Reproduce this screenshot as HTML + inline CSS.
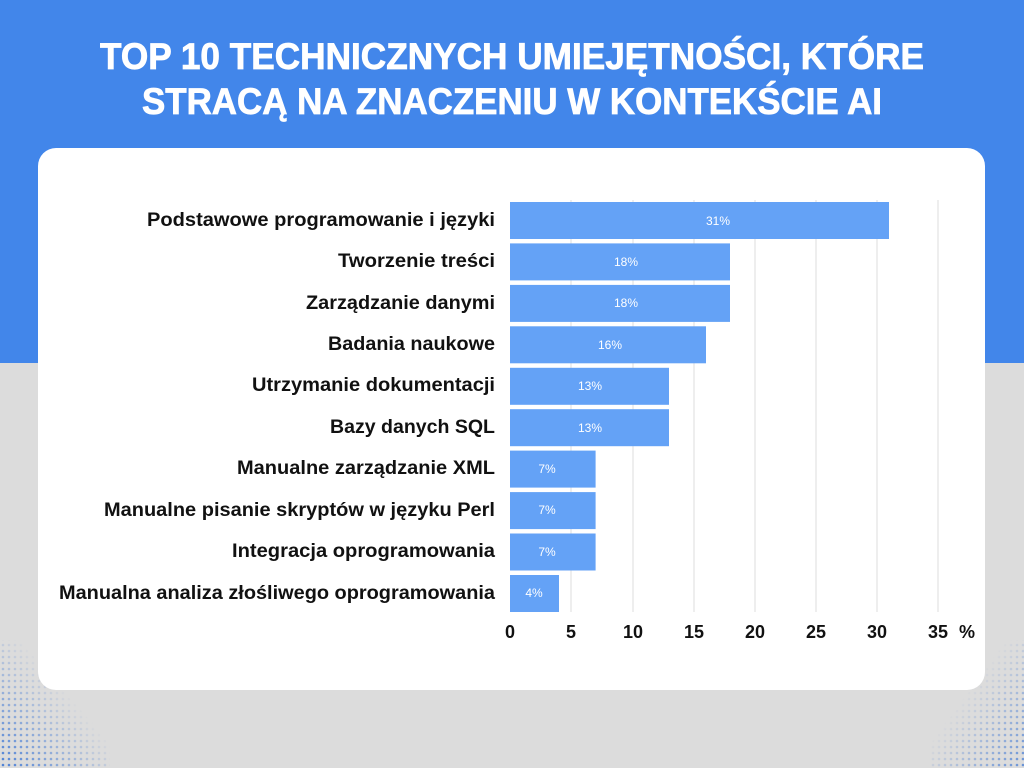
<!DOCTYPE html>
<html><head><meta charset="utf-8"><style>
body{margin:0;width:1024px;height:768px;overflow:hidden;font-family:"Liberation Sans",sans-serif;}
</style></head><body>
<svg width="1024" height="768" xmlns="http://www.w3.org/2000/svg" font-family="Liberation Sans, sans-serif">
<defs>
<pattern id="dots" width="6" height="6" patternUnits="userSpaceOnUse"><circle cx="3" cy="3" r="1.3" fill="#4a7fd6"/></pattern>
<linearGradient id="fadeL" x1="0" y1="1" x2="1" y2="0"><stop offset="0" stop-color="#fff" stop-opacity="1"/><stop offset="0.6" stop-color="#fff" stop-opacity="0"/></linearGradient>
<mask id="mL"><rect x="0" y="640" width="110" height="128" fill="url(#fadeL)"/></mask>
<linearGradient id="fadeR" x1="1" y1="1" x2="0" y2="0"><stop offset="0" stop-color="#fff" stop-opacity="0.8"/><stop offset="0.6" stop-color="#fff" stop-opacity="0"/></linearGradient>
<mask id="mR"><rect x="930" y="640" width="94" height="128" fill="url(#fadeR)"/></mask>
</defs>
<rect width="1024" height="768" fill="#dcdcdc"/>
<rect width="1024" height="363" fill="#4286ea"/>
<rect x="0" y="640" width="110" height="128" fill="url(#dots)" mask="url(#mL)"/>
<rect x="930" y="640" width="94" height="128" fill="url(#dots)" mask="url(#mR)"/>
<text x="100" y="69" textLength="824" lengthAdjust="spacingAndGlyphs" fill="#fff" font-size="37" font-weight="bold" stroke="#fff" stroke-width="0.8">TOP 10 TECHNICZNYCH UMIEJĘTNOŚCI, KTÓRE</text>
<text x="142" y="114" textLength="740" lengthAdjust="spacingAndGlyphs" fill="#fff" font-size="37" font-weight="bold" stroke="#fff" stroke-width="0.8">STRACĄ NA ZNACZENIU W KONTEKŚCIE AI</text>
<rect x="38" y="148" width="947" height="542" rx="18" fill="#fff"/>
<g stroke="#e3e3e3" stroke-width="1.2">
<line x1="571" y1="200" x2="571" y2="612"/><line x1="633" y1="200" x2="633" y2="612"/>
<line x1="694" y1="200" x2="694" y2="612"/><line x1="755" y1="200" x2="755" y2="612"/>
<line x1="816" y1="200" x2="816" y2="612"/><line x1="877" y1="200" x2="877" y2="612"/>
<line x1="938" y1="200" x2="938" y2="612"/>
</g>
<g fill="#64a2f6">
<rect x="510" y="202" width="379" height="37"/>
<rect x="510" y="243.4" width="220" height="37"/>
<rect x="510" y="284.9" width="220" height="37"/>
<rect x="510" y="326.3" width="196" height="37"/>
<rect x="510" y="367.8" width="159" height="37"/>
<rect x="510" y="409.2" width="159" height="37"/>
<rect x="510" y="450.6" width="85.6" height="37"/>
<rect x="510" y="492.1" width="85.6" height="37"/>
<rect x="510" y="533.5" width="85.6" height="37"/>
<rect x="510" y="575" width="49" height="37"/>
</g>
<g fill="#fff" font-size="12" text-anchor="middle">
<text x="718" y="225">31%</text><text x="626" y="266">18%</text><text x="626" y="307">18%</text>
<text x="610" y="349">16%</text><text x="590" y="390">13%</text><text x="590" y="432">13%</text>
<text x="547" y="512" dy="-39">7%</text><text x="547" y="514">7%</text><text x="547" y="556">7%</text>
<text x="534" y="597">4%</text>
</g>
<g fill="#111" font-size="19" font-weight="bold" lengthAdjust="spacingAndGlyphs">
<text x="147" y="226" textLength="348" lengthAdjust="spacingAndGlyphs">Podstawowe programowanie i języki</text>
<text x="338" y="267" textLength="157" lengthAdjust="spacingAndGlyphs">Tworzenie treści</text>
<text x="306" y="309" textLength="189" lengthAdjust="spacingAndGlyphs">Zarządzanie danymi</text>
<text x="328" y="350" textLength="167" lengthAdjust="spacingAndGlyphs">Badania naukowe</text>
<text x="252" y="391" textLength="243" lengthAdjust="spacingAndGlyphs">Utrzymanie dokumentacji</text>
<text x="330" y="433" textLength="165" lengthAdjust="spacingAndGlyphs">Bazy danych SQL</text>
<text x="237" y="474" textLength="258" lengthAdjust="spacingAndGlyphs">Manualne zarządzanie XML</text>
<text x="104" y="516" textLength="391" lengthAdjust="spacingAndGlyphs">Manualne pisanie skryptów w języku Perl</text>
<text x="232" y="557" textLength="263" lengthAdjust="spacingAndGlyphs">Integracja oprogramowania</text>
<text x="59" y="599" textLength="436" lengthAdjust="spacingAndGlyphs">Manualna analiza złośliwego oprogramowania</text>
</g>
<g fill="#111" font-size="18" font-weight="bold" text-anchor="middle">
<text x="510" y="638">0</text><text x="571" y="638">5</text><text x="633" y="638">10</text>
<text x="694" y="638">15</text><text x="755" y="638">20</text><text x="816" y="638">25</text>
<text x="877" y="638">30</text><text x="938" y="638">35</text><text x="967" y="638">%</text>
</g>
</svg>
</body></html>
